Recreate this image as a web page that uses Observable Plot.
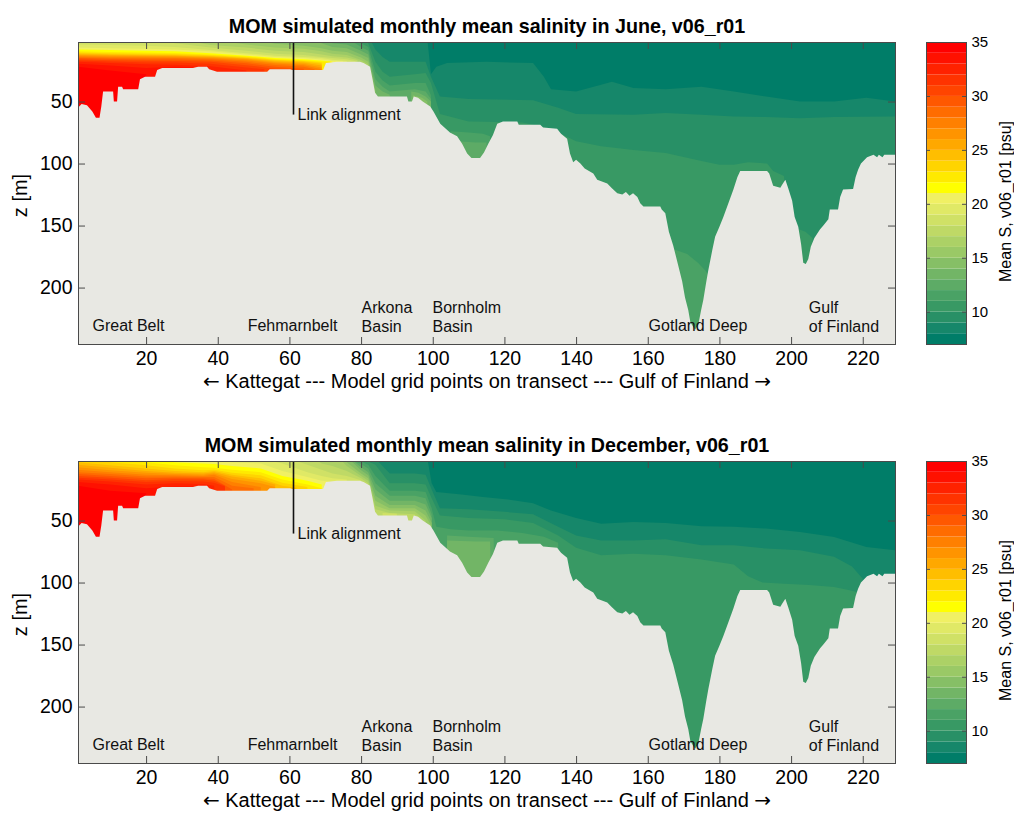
<!DOCTYPE html>
<html><head><meta charset="utf-8">
<script src="https://cdn.jsdelivr.net/npm/d3@7"></script>
<script src="https://cdn.jsdelivr.net/npm/@observablehq/plot@0.6"></script>
<style>
body{margin:0;background:#fff;font-family:"Liberation Sans",Arial,sans-serif;}
#wrap{position:relative;width:1014px;height:818px;overflow:hidden;background:#fff;}
#wrap > svg{position:absolute;}
</style></head><body><div id="wrap"></div>
<script>
// ---------- tick labels / categories ----------
const xTicks = [20, 40, 60, 80, 100, 120, 140, 160, 180, 200, 220];
const zTicks = [50, 100, 150, 200];
const sTicks = [10, 15, 20, 25, 30, 35];
const sThresholds = [8, 9, 10, 11, 12, 13, 14, 15, 16, 17, 18, 19, 20, 21, 22, 23, 24, 25, 26, 27, 28, 29, 30, 31, 32, 33, 34];
const sBands = [7, 8, 9, 10, 11, 12, 13, 14, 15, 16, 17, 18, 19, 20, 21, 22, 23, 24, 25, 26, 27, 28, 29, 30, 31, 32, 33, 34];
const palette = ["#007d68", "#16876a", "#289066", "#389964", "#4aa265", "#5dab66", "#72b566", "#86bf66", "#9ac966", "#acd166", "#bfd966", "#d0e166", "#e0e966", "#f0f064", "#ffff00", "#ffea00", "#ffd400", "#ffbe00", "#ffa800", "#ff9400", "#ff8000", "#ff6c00", "#ff5800", "#ff4400", "#ff3300", "#ff2200", "#ff1100", "#ff0000"];

const titles = ["MOM simulated monthly mean salinity in June, v06_r01", "MOM simulated monthly mean salinity in December, v06_r01"];
const xLabel = "\u2190 Kattegat --- Model grid points on transect --- Gulf of Finland \u2192";
const zLabel = "z [m]";
const cbLabel = "Mean S, v06_r01 [psu]";
const regionNames = ["Great Belt", "Fehmarnbelt", "Arkona\nBasin", "Bornholm\nBasin", "Gotland Deep", "Gulf\nof Finland"];
const regionX = [4.9, 48.2, 80, 99.8, 160.1, 204.8];
const regionZ = [229.5, 229.5, 223, 223, 229.5, 223];
const linkX = 61, linkZ = 60.5, linkText = "Link alignment";

// ---------- bathymetry: [grid point, depth m] ----------
const seabed = [[1,55],[2,52],[3.5,53],[5,58],[6,63],[7,63],[7.5,54],[8,42],[10.8,42],[11,50],[11.9,50],[12.2,38],[13.3,38],[13.6,40],[17.8,40],[18.3,32],[19.7,30],[22.5,30],[23.1,24.5],[24.5,23],[33.1,23],[34.5,22],[37,22],[37.6,24],[39.8,26],[53.8,26],[54.5,24],[60.2,24],[60.8,24.5],[69.4,24.5],[70.2,19],[73.3,18],[79.7,18],[80.7,19],[82.5,22],[83.2,32],[83.9,43],[84.7,46],[92.8,46],[93.2,50],[94.2,50],[94.7,46],[95.9,47],[97.2,50],[99.3,54],[100.2,58],[102.1,68],[104.8,75],[106.8,78],[108.2,84],[109.6,92],[110.8,95.6],[113.2,95.6],[114.3,91],[115.5,84],[116.8,77],[118,68],[119.6,66],[123.6,66],[124,68.8],[130,68.8],[130.8,71],[134.7,72],[135.8,76],[137.5,80],[138.3,92],[139.2,99],[140,97],[141.2,100],[142.4,104],[144.8,108],[145.9,113],[148.7,116],[150,120],[151.5,124],[152.9,125],[153.9,123],[154.9,126],[155.9,124],[157.1,127],[157.9,132],[158.8,134.6],[163.5,134.6],[163.9,137],[164.9,140],[165.9,155],[167.1,166],[168.4,181],[169.6,195],[170.4,208],[171.3,218],[171.9,228],[173.2,234],[174.1,230],[174.9,218],[175.5,210],[176.3,196],[176.9,186],[178,170],[178.8,159],[180,151],[181.1,143],[182.5,132],[183.9,121],[185,111],[185.8,106],[193.3,106],[193.9,108],[195,118],[197,119.6],[197.5,117],[198.4,113],[199.2,120],[200.3,130],[201,143],[202,151],[202.8,165],[203.4,180],[204.1,181],[204.8,177],[205.5,167],[206.5,160],[208.1,153],[209,150],[210.4,145],[210.8,137],[213.1,137],[213.7,127],[214.5,121],[217.3,120.5],[218,111],[218.7,105],[219.5,100],[221.2,95],[223,93],[224,95],[224.5,93],[225.5,95],[226,93],[229,93]];

// ---------- isohaline depths: [level psu, [[grid point, depth m], ...]]  (0 = at surface, 300 = below seabed) ----------
const juneIsohalines = [
 [7, [[1,0],[229,0]]],
 [8, [[1,0],[98.5,0],[99.5,28],[101,22],[104,19],[115,18],[128,19],[131,30],[133,40],[140,42],[147,36.5],[150,34],[156,39],[165,40],[175,38],[184,42],[193,46],[202.5,50],[212,50],[221,47],[229,50]]],
 [9, [[1,0],[82.5,0],[84,8],[86,14],[88,18],[98,18],[99.5,30],[102,46],[110,48],[128,49],[135,55],[140,60],[156,60.7],[165,59.3],[175,60.7],[184,62],[193,62.5],[202.5,63.4],[212,62.5],[229,62]]],
 [10, [[1,0],[80,0],[82,3],[84,18],[86,26],[88,30],[95,28],[98,27],[99.5,35],[102,60],[110,66],[125,67],[130,70],[135,75],[140,82],[147,86],[156,89],[165,91.5],[175,98],[180,101],[184,101],[188,99],[193.3,100],[195,106],[198,110],[199.5,150],[204,155],[206,160],[207,300],[229,300]]],
 [11, [[1,0],[79,0],[80,3],[82,6],[84,26],[86,33],[88,37],[95,35],[98,35],[99.5,45],[101,300],[103,300],[105,74],[110,75],[114,76],[116,78],[117.5,300],[164,300],[166,168],[168,170],[171,173],[174,180],[176,186],[177,190],[178,300],[229,300]]],
 [12, [[1,0],[76,0],[78,2.5],[80,6],[82,9],[84,32],[86,38],[88,42],[95,40],[98,42],[99.5,48],[100.5,300],[106,300],[107,82],[112,83],[115,83],[116,300],[229,300]]],
 [13, [[1,0],[70,0],[72,3],[76,4],[80,9],[82,12],[84,37],[86,42],[88,44.5],[89,300],[93,300],[94,42],[96,43],[98,46],[99.5,50],[100.5,300],[229,300]]],
 [14, [[1,0],[67,0],[69,3],[72,6],[76,7],[80,12],[82,15],[84,41],[85,300],[94,300],[94.5,45],[97,47],[98.5,50],[99.5,300],[229,300]]],
 [15, [[1,0],[50,0],[56,3.5],[64,5],[69,7],[72,9],[76,10],[80,14.5],[82,18],[84,44],[84.5,300],[229,300]]],
 [16, [[1,0],[40,0],[44,2.5],[48,4],[56,6.5],[64,7.5],[69,9.5],[72,11.5],[76,12.5],[80,16.5],[82,20],[83,300],[229,300]]],
 [17, [[1,0],[30,0],[38,4.5],[48,6.5],[56,9],[64,10],[69,12],[72,13.5],[76,14.5],[79,16.5],[80.5,300],[229,300]]],
 [18, [[1,0],[24,0],[28,3],[38,6.5],[48,9],[56,11.5],[64,12.5],[69,14],[72,15],[76,16],[78.5,17.5],[80,300],[229,300]]],
 [19, [[1,4],[10,4.5],[20,5],[28,6],[38,8.5],[48,11],[56,13],[64,14],[69,15],[72,16.3],[76,17.3],[78,300],[229,300]]],
 [20, [[1,6.5],[10,7],[20,7.5],[28,8],[38,9.5],[48,12],[56,14],[64,15],[69,16.2],[72,17.3],[75,17.5],[76.5,300],[229,300]]],
 [21, [[1,8],[10,8.5],[20,9],[28,9.5],[38,11],[48,13],[56,15],[64,16],[69,17],[72,18],[74,300],[229,300]]],
 [22, [[1,9.5],[10,10],[20,10.5],[28,10.8],[38,12],[48,13.6],[56,15.7],[64,16.7],[69,17.7],[71.5,18],[73,300],[229,300]]],
 [23, [[1,10.5],[10,11],[20,11.5],[28,11.7],[38,12.6],[48,14.2],[56,16.3],[64,17.3],[69,18.5],[71,300],[229,300]]],
 [24, [[1,11.3],[10,11.8],[20,12.2],[28,12.4],[38,13.2],[48,14.8],[56,17],[64,18],[69,19.5],[70.5,300],[229,300]]],
 [25, [[1,12],[10,12.5],[20,12.8],[28,13],[38,13.8],[48,15.4],[56,17.7],[64,18.8],[69,21],[70.2,300],[229,300]]],
 [26, [[1,12.7],[10,13.2],[20,13.5],[28,13.7],[38,14.5],[48,16],[56,18.5],[64,19.7],[69,22.5],[70,300],[229,300]]],
 [27, [[1,13.4],[10,14],[20,14.3],[28,14.4],[38,15.2],[48,17],[56,19.3],[64,20.7],[69,24],[70,300],[229,300]]],
 [28, [[1,14.2],[10,14.8],[20,15.2],[28,15.2],[38,16],[48,18],[56,20.5],[64,22],[67,24],[68.5,300],[229,300]]],
 [29, [[1,15],[10,15.7],[20,16.2],[28,16.2],[38,17],[48,19.2],[56,22],[64,23.5],[66,300],[229,300]]],
 [30, [[1,16],[10,16.7],[20,17.2],[28,17.3],[38,18],[48,20.7],[56,23.5],[60,23.8],[63,300],[229,300]]],
 [31, [[1,17],[10,17.7],[20,18.5],[28,18.6],[38,19.5],[48,22.5],[53,24],[55,300],[229,300]]],
 [32, [[1,18],[10,19],[20,20],[28,20.3],[38,21.5],[48,25],[51,300],[229,300]]],
 [33, [[1,19.5],[10,21],[20,23],[28,22],[33,22.3],[35,300],[229,300]]],
 [34, [[1,22],[10,25],[20,28],[23,300],[229,300]]]
];

const decIsohalines = [
 [7, [[1,0],[229,0]]],
 [8, [[1,0],[98.5,0],[99.7,20],[101,27],[108,29],[114,31],[121,33],[128,36],[133,42],[140,48],[147,52.5],[156,51.2],[165,52],[175,54.6],[184,55.1],[193,56.5],[202.5,59.2],[212,63.3],[221,71.3],[229,74]]],
 [9, [[1,0],[84,0],[86,6],[88,12],[95,12],[98,13],[99.7,25],[102,40],[110,41],[120,43],[128,45],[135,55],[140,62],[147,66],[156,66],[165,65],[175,70],[184,70],[193,72.6],[202.5,73.9],[212,79.2],[217,87],[220,97],[221,300],[229,300]]],
 [10, [[1,0],[81,0],[82,2.5],[84,5],[88,20],[95,20],[98,21],[99.7,32],[102,46],[110,48],[120,49],[128,52],[135,62],[140,72],[147,78],[156,76.7],[165,78],[175,81.4],[184,85.4],[188,95],[192,100],[198,101],[205,102],[212,103.5],[216,106],[219,108],[220,300],[229,300]]],
 [11, [[1,0],[78.5,0],[80,2.5],[82,5],[84,14],[88,26],[95,26],[98,27],[99.7,40],[101,55],[105,57],[110,58],[118,58],[125,60],[131,63],[135,68],[136,300],[229,300]]],
 [12, [[1,0],[77.5,0],[78,2],[80,4.5],[82,8],[84,20],[88,30],[95,30],[98,32],[99.7,45],[101,300],[103,300],[104,62],[110,63],[117,64],[118.5,300],[229,300]]],
 [13, [[1,0],[77,0],[80,7],[82,11],[84,25],[88,34],[95,34],[98,37],[99.7,48],[101,300],[103,300],[104,66],[112,67],[116,67],[117.5,300],[229,300]]],
 [14, [[1,0],[76.5,0],[80,9.5],[82,13.5],[84,30],[88,37.5],[95,37.5],[98,42],[99.7,52],[101,300],[229,300]]],
 [15, [[1,0],[75,0],[76,3],[80,12],[82,16],[84,34],[88,40],[95,40],[98,46],[99.5,54],[100.5,300],[229,300]]],
 [16, [[1,0],[74,0],[76,6],[80,14],[82,18],[84,38],[88,42],[95,42.5],[98,50],[99,300],[229,300]]],
 [17, [[1,0],[67,0],[69,4],[72,6],[76,10],[80,16],[82,20],[84,41],[88,44],[95,45],[96.5,48],[97.5,300],[229,300]]],
 [18, [[1,0],[60,0],[65,5],[69,9],[72,12],[76,14],[80,17.5],[81,300],[85,300],[86,44],[90,44.5],[91,300],[229,300]]],
 [19, [[1,0],[52,0],[58,4],[65,11],[69,14],[72,16],[76,17],[78,300],[229,300]]],
 [20, [[1,0],[37,0],[44,3],[52,4],[58,10],[65,15],[69,18],[71,18.5],[72,300],[229,300]]],
 [21, [[1,0],[22,0],[28,3],[36,4],[39,4.5],[44,6],[52,8],[58,14],[65,18],[69,21],[70,300],[229,300]]],
 [22, [[1,0],[13,0],[20,3],[28,5.5],[36,7],[39,7.5],[44,9],[52,11],[58,17],[65,21],[69,24],[69.6,300],[229,300]]],
 [23, [[1,0],[4,0],[10,3],[20,5.5],[28,8],[36,9.5],[39,9],[44,11.5],[52,13.5],[58,19.5],[65,23],[67,300],[229,300]]],
 [24, [[1,3],[10,5.5],[20,8],[28,10],[36,11],[39,10],[44,13],[52,16],[58,22],[62,23.5],[64,300],[229,300]]],
 [25, [[1,5],[10,7.5],[20,10],[28,11.5],[36,12],[39,11],[44,14.5],[52,18],[56,21],[58,300],[229,300]]],
 [26, [[1,7],[10,9.5],[20,11.5],[28,12.5],[36,13],[39,12],[44,16.5],[52,20],[56,23],[57,300],[229,300]]],
 [27, [[1,9],[10,11],[20,13],[28,13.5],[36,14],[39,13],[44,19],[52,23],[55,300],[229,300]]],
 [28, [[1,11],[10,12.5],[20,14.5],[28,14.5],[36,15],[39,15],[44,22],[50,24],[52,300],[229,300]]],
 [29, [[1,12.5],[10,14],[20,16],[28,15.5],[36,16],[39,16.5],[44,25],[47,300],[229,300]]],
 [30, [[1,14],[10,15.5],[20,17.5],[28,16.8],[36,17],[39,18],[42,22],[44,300],[229,300]]],
 [31, [[1,15.5],[10,17],[20,19],[28,18.2],[36,18.5],[39,19.5],[42,22.5],[43.5,300],[229,300]]],
 [32, [[1,17],[10,18.5],[20,21],[28,20],[36,20.5],[39,22],[41,300],[229,300]]],
 [33, [[1,19],[10,21],[20,24],[28,22.5],[33,22.5],[35,300],[229,300]]],
 [34, [[1,22],[10,26],[20,28],[23,300],[229,300]]]
];

// ---------- styles ----------
const FONT = "'Liberation Sans', Arial, Helvetica, sans-serif";
const FRAME = "#4a4a4a";
const LAND = "#e8e8e3";
const colorScale = {type: "threshold", domain: sThresholds, range: palette};

function mainPlot(title, iso) {
  const bands = iso.map(([lev, pts]) =>
    Plot.areaY(pts, {x: d => d[0], y1: d => d[1], y2: 300, fill: () => lev + 0.5, clip: true}));
  return Plot.plot({
    width: 900, height: 400,
    marginLeft: 78, marginRight: 5, marginTop: 42, marginBottom: 56,
    x: {domain: [1, 229]},
    y: {domain: [2, 245.5], reverse: true},
    color: colorScale,
    style: {fontFamily: FONT, fontSize: "19px", color: "#000", background: "transparent"},
    marks: [
      ...bands,
      Plot.areaY(seabed, {x: d => d[0], y1: d => d[1], y2: 300, fill: LAND, clip: true}),
      Plot.ruleX([linkX], {x: d => d, y1: 2, y2: linkZ, stroke: "#111", strokeWidth: 1.6}),
      Plot.text([linkText], {x: linkX, y: linkZ - 0.5, text: d => d, textAnchor: "start", dx: 4, fontSize: 16, fill: "#111"}),
      Plot.text(regionNames, {x: (d, i) => regionX[i], y: (d, i) => regionZ[i], text: d => d, textAnchor: "start", fontSize: 16, lineHeight: 1.15, fill: "#111"}),
      Plot.tickX(xTicks, {x: d => d, insetTop: 295, stroke: FRAME}),
      Plot.tickX(xTicks, {x: d => d, insetBottom: 295, stroke: FRAME}),
      Plot.tickY(zTicks, {y: d => d, insetRight: 810, stroke: FRAME}),
      Plot.tickY(zTicks, {y: d => d, insetLeft: 810, stroke: FRAME}),
      Plot.frame({stroke: FRAME}),
      Plot.axisX(xTicks, {tickSize: 0, tickPadding: 7, fontSize: 19.5, label: null}),
      Plot.axisY(zTicks, {tickSize: 0, tickPadding: 6, fontSize: 19.5, label: null}),
      Plot.text([title], {text: d => d, frameAnchor: "top", dy: -24, fontSize: 19.7, fontWeight: "bold"}),
      Plot.text([xLabel], {text: d => d, frameAnchor: "bottom", dy: 43, fontSize: 20}),
      Plot.text([zLabel], {text: d => d, frameAnchor: "left", textAnchor: "middle", rotate: -90, dx: -58, dy: 2, fontSize: 20})
    ]
  });
}

function colorbar() {
  return Plot.plot({
    width: 114, height: 400,
    marginLeft: 26, marginRight: 48, marginTop: 42, marginBottom: 56,
    x: {domain: [0, 1], axis: null},
    y: {domain: [7, 35], axis: null},
    color: colorScale,
    style: {fontFamily: FONT, fontSize: "15px", color: "#000", background: "transparent"},
    marks: [
      Plot.rect(sBands, {x1: 0, x2: 1, y1: d => d, y2: d => d + 1, fill: d => d + 0.5}),
      Plot.tickY(sTicks, {y: d => d, insetRight: 36, stroke: FRAME}),
      Plot.tickY(sTicks, {y: d => d, insetLeft: 36, stroke: FRAME}),
      Plot.frame({stroke: FRAME}),
      Plot.axisY(sTicks, {anchor: "right", tickSize: 0, tickPadding: 5, fontSize: 15, label: null}),
      Plot.text([cbLabel], {text: d => d, frameAnchor: "right", textAnchor: "middle", rotate: -90, dx: 39, dy: 8, fontSize: 16})
    ]
  });
}

// render the arrows of the axis label with a font that has full-size arrow glyphs
function fixArrows(svg) {
  svg.querySelectorAll("text").forEach(t => {
    const s = t.textContent;
    if (!/[\u2190\u2192]/.test(s) || t.querySelector("tspan")) return;
    t.textContent = "";
    s.split(/([\u2190\u2192])/).forEach(part => {
      if (!part) return;
      const ts = document.createElementNS("http://www.w3.org/2000/svg", "tspan");
      ts.textContent = part;
      if (part === "\u2190" || part === "\u2192") ts.setAttribute("font-family", "DejaVu Sans");
      t.appendChild(ts);
    });
  });
}

const wrap = document.getElementById("wrap");
[[titles[0], juneIsohalines, 0], [titles[1], decIsohalines, 419]].forEach(([t, iso, top]) => {
  const m = mainPlot(t, iso);
  fixArrows(m);
  m.style.left = "0px"; m.style.top = top + "px";
  wrap.appendChild(m);
  const c = colorbar();
  c.style.left = "900px"; c.style.top = top + "px";
  wrap.appendChild(c);
});
</script></body></html>
